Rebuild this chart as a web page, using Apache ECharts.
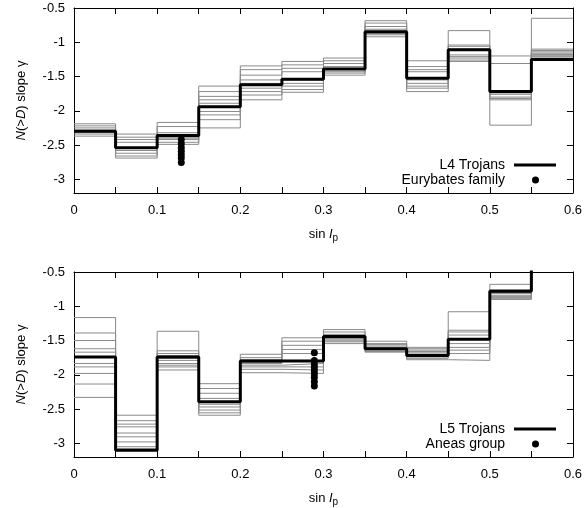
<!DOCTYPE html>
<html>
<head>
<meta charset="utf-8">
<script src="https://cdn.jsdelivr.net/npm/echarts@6/dist/echarts.min.js"></script>
<style>
html,body{margin:0;padding:0;background:#fff;}
#c{width:585px;height:508px;}
</style>
</head>
<body>
<div id="c"></div>
<script>
// bin left edges (sin I_p), plus the final right edge 0.6
const binEdges = [0, 0.05, 0.1, 0.15, 0.2, 0.25, 0.3, 0.35, 0.4, 0.45, 0.5, 0.55, 0.6];
const xTickLabels = ['0', '0.1', '0.2', '0.3', '0.4', '0.5', '0.6'];
const yTickValues = [-3, -2.5, -2, -1.5, -1, -0.5];

// Top panel: L4 Trojans slope per bin
const l4Trojans = [-2.30, -2.54, -2.36, -1.94, -1.62, -1.54, -1.39, -0.845, -1.525, -1.11, -1.72, -1.25];
// Top panel: clone (gray) histograms
const l4Clones = [
  [-2.19, -2.34, -2.17, -1.64, -1.345, -1.28, -1.23, -0.685, -1.27, -0.83, -1.20, -0.65],
  [-2.22, -2.385, -2.23, -1.72, -1.40, -1.33, -1.27, -0.72, -1.355, -1.04, -1.31, -1.10],
  [-2.25, -2.42, -2.32, -1.79, -1.48, -1.38, -1.31, -0.77, -1.40, -1.06, -1.72, -1.12],
  [-2.28, -2.46, -2.36, -1.84, -1.55, -1.43, -1.355, -0.81, -1.43, -1.10, -1.74, -1.14],
  [-2.29, -2.545, -2.385, -1.89, -1.60, -1.55, -1.38, -0.84, -1.55, -1.185, -1.76, -1.16],
  [-2.30, -2.58, -2.40, -2.01, -1.67, -1.60, -1.40, -0.86, -1.60, -1.21, -1.80, -1.18],
  [-2.32, -2.62, -2.42, -2.06, -1.72, -1.64, -1.43, -0.87, -1.64, -1.23, -1.82, -1.19],
  [-2.34, -2.66, -2.46, -2.13, -1.77, -1.69, -1.45, -0.89, -1.67, -1.26, -1.84, -1.21],
  [-2.37, -2.69, -2.49, -2.25, -1.84, -1.73, -1.48, -0.92, -1.72, -1.28, -2.21, -1.23]
];
// Eurybates family points
const eurybatesX = 0.129;
const eurybatesY = [-2.42, -2.48, -2.54, -2.59, -2.64, -2.69, -2.755];

// Bottom panel: L5 Trojans slope per bin
const l5Trojans = [-1.74, -3.10, -1.74, -2.395, -1.80, -1.80, -1.44, -1.62, -1.72, -1.48, -0.78, -0.40];
const l5Clones = [
  [-1.165, -2.59, -1.365, -2.13, -1.70, -1.46, -1.34, -1.51, -1.60, -1.08, -0.68, -0.30],
  [-1.39, -2.67, -1.65, -2.20, -1.75, -1.51, -1.375, -1.545, -1.62, -1.35, -0.76, -0.31],
  [-1.50, -2.72, -1.69, -2.27, -1.78, -1.57, -1.41, -1.56, -1.64, -1.375, -0.79, -0.32],
  [-1.62, -2.76, -1.72, -2.345, -1.80, -1.63, -1.43, -1.58, -1.66, -1.42, -0.80, -0.33],
  [-1.67, -2.85, -1.76, -2.40, -1.82, -1.69, -1.45, -1.60, -1.68, -1.48, -0.815, -0.34],
  [-1.835, -2.905, -1.79, -2.43, -1.835, -1.79, -1.47, -1.62, -1.70, -1.545, -0.84, -0.35],
  [-1.885, -2.98, -1.835, -2.47, -1.86, -1.835, -1.49, -1.63, -1.72, -1.60, -0.86, -0.36],
  [-1.98, -3.05, -1.86, -2.515, -1.885, -1.885, -1.505, -1.64, -1.74, -1.64, -0.87, -0.37],
  [-2.135, -3.08, -1.885, -2.555, -1.92, -1.93, -1.52, -1.66, -1.76, -1.69, -0.89, -0.38],
  [-2.33, -3.10, -1.93, -2.59, -1.97, -1.98, -1.545, -1.67, -1.78, -1.79, -0.90, -0.39]
];
// Aneas group points
const aneasX = 0.289;
const aneasY = [-1.68, -1.79, -1.845, -1.895, -1.94, -1.99, -2.04, -2.10, -2.165];

const FONT = '"Liberation Sans", Arial, sans-serif';

function stepData(vals) {
  const d = vals.map((v, i) => [binEdges[i], v]);
  d.push([binEdges[vals.length], vals[vals.length - 1]]);
  return d;
}

const grids = [
  {left: 74, right: 11, top: 8, height: 185},
  {left: 74, right: 11, top: 272, height: 185}
];

const xAxes = [], yAxes = [];
[0, 1].forEach(g => {
  xAxes.push({
    type: 'value', gridIndex: g, min: 0, max: 0.6, interval: 0.1,
    name: '{n|sin }{i|I}{s|p}', nameLocation: 'middle', nameGap: 32,
    nameTextStyle: {
      rich: {
        n: {fontFamily: FONT, fontSize: 13, color: '#000'},
        i: {fontFamily: FONT, fontSize: 13, fontStyle: 'italic', color: '#000'},
        s: {fontFamily: FONT, fontSize: 10, color: '#000', padding: [8, 0, 0, 0]}
      }
    },
    axisLine: {show: true, onZero: false, lineStyle: {color: '#000', width: 1}},
    axisTick: {show: true, inside: true, length: 6, lineStyle: {color: '#000'}},
    minorTick: {show: true, splitNumber: 2, length: 6, lineStyle: {color: '#000'}},
    axisLabel: {
      color: '#000', fontFamily: FONT, fontSize: 13, margin: 11,
      formatter: v => { const s = xTickLabels.find(t => Math.abs(parseFloat(t) - v) < 1e-9); return s === undefined ? '' : s; }
    },
    splitLine: {show: false}
  });
  xAxes.push({
    type: 'value', gridIndex: g, min: 0, max: 0.6, interval: 0.1, position: 'top',
    axisLine: {show: true, onZero: false, lineStyle: {color: '#000', width: 1}},
    axisTick: {show: true, inside: true, length: 6, lineStyle: {color: '#000'}},
    minorTick: {show: true, splitNumber: 2, length: 6, lineStyle: {color: '#000'}},
    axisLabel: {show: false}, splitLine: {show: false}
  });
  yAxes.push({
    type: 'value', gridIndex: g, min: -3.2, max: -0.5,
    name: '{i|N}{n|(>}{i|D}{n|) slope γ}', nameLocation: 'middle', nameGap: 46, nameRotate: 90,
    nameTextStyle: {
      rich: {
        n: {fontFamily: FONT, fontSize: 13, color: '#000'},
        i: {fontFamily: FONT, fontSize: 13, fontStyle: 'italic', color: '#000'}
      }
    },
    axisLine: {show: true, onZero: false, lineStyle: {color: '#000', width: 1}},
    axisTick: {show: true, inside: true, length: 6, customValues: yTickValues, lineStyle: {color: '#000'}},
    axisLabel: {color: '#000', fontFamily: FONT, fontSize: 13, margin: 9, customValues: yTickValues,
      formatter: v => String(v)},
    splitLine: {show: false}
  });
  yAxes.push({
    type: 'value', gridIndex: g, min: -3.2, max: -0.5, position: 'right',
    axisLine: {show: true, onZero: false, lineStyle: {color: '#000', width: 1}},
    axisTick: {show: true, inside: true, length: 6, customValues: yTickValues, lineStyle: {color: '#000'}},
    axisLabel: {show: false}, splitLine: {show: false}
  });
});

const series = [];
function addPanel(g, clones, main, mainName, ptsX, ptsY, ptsName) {
  clones.forEach(c => series.push({
    type: 'line', xAxisIndex: g * 2, yAxisIndex: g * 2, step: 'end',
    data: stepData(c), showSymbol: false, symbol: 'none', silent: true, clip: true,
    lineStyle: {color: '#8a8a8a', width: 1}, z: 2
  }));
  series.push({
    name: mainName, type: 'line', xAxisIndex: g * 2, yAxisIndex: g * 2, step: 'end',
    data: stepData(main), showSymbol: false, symbol: 'none', clip: true,
    lineStyle: {color: '#000', width: 3}, itemStyle: {color: '#000'}, z: 3
  });
  series.push({
    name: ptsName, type: 'scatter', xAxisIndex: g * 2, yAxisIndex: g * 2,
    data: ptsY.map(y => [ptsX, y]), symbol: 'circle', symbolSize: 7,
    itemStyle: {color: '#000', opacity: 1}, z: 4
  });
}
addPanel(0, l4Clones, l4Trojans, 'L4 Trojans', eurybatesX, eurybatesY, 'Eurybates family');
addPanel(1, l5Clones, l5Trojans, 'L5 Trojans', aneasX, aneasY, 'Aneas group');

function legendItem(top, right, name, icon, w, h, gap) {
  return {
    top: top, right: right, padding: 0, orient: 'vertical', align: 'right',
    itemWidth: w, itemHeight: h,
    data: [{name: name, icon: icon, itemStyle: {color: '#000', opacity: 1}}],
    formatter: '{t|{name}}{g| }',
    textStyle: {
      color: '#000', fontFamily: FONT, fontSize: 14,
      rich: {
        t: {color: '#000', fontFamily: FONT, fontSize: 14},
        g: {width: gap, fontSize: 14}
      }
    },
    selectedMode: false
  };
}

const chart = echarts.init(document.getElementById('c'), null, {renderer: 'canvas'});
chart.setOption({
  animation: false,
  backgroundColor: '#fff',
  grid: grids,
  xAxis: xAxes,
  yAxis: yAxes,
  legend: [
    legendItem(158, 29, 'L4 Trojans', 'rect', 42, 3, 4),
    legendItem(173, 46, 'Eurybates family', 'circle', 7, 7, 22),
    legendItem(422, 29, 'L5 Trojans', 'rect', 42, 3, 4),
    legendItem(437, 46, 'Aneas group', 'circle', 7, 7, 22)
  ],
  series: series
});
</script>
</body>
</html>
